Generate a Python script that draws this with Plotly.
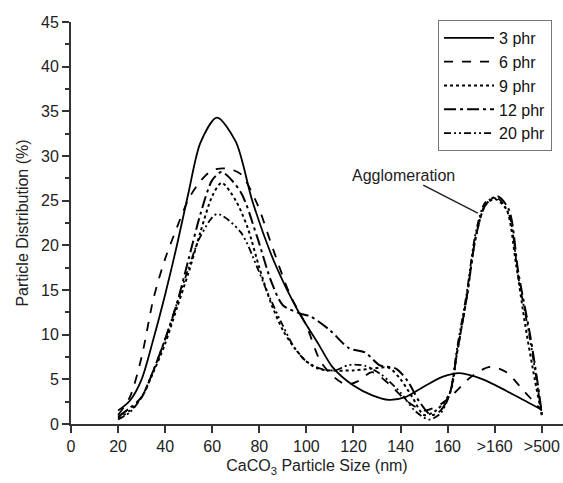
import plotly.graph_objects as go

# ---- data ----
x_3 = [20, 25, 30, 35, 40, 45, 50, 55, 62, 70, 77, 85, 90, 97, 105, 111, 120, 128, 135, 142, 150, 158, 165, 175, 185, 195, 200]
y_3 = [1.5, 2.6, 5.0, 9.5, 14.5, 20.0, 26.0, 31.5, 34.3, 31.6, 25.0, 19.0, 16.0, 12.4, 9.0, 6.4, 4.3, 3.2, 2.7, 3.0, 4.2, 5.3, 5.7, 5.0, 3.7, 2.3, 1.6]

x_6 = [20, 25, 30, 35, 40, 45, 50, 55, 60, 66, 72, 79, 85, 93, 100, 106, 112, 117, 122, 128, 135, 143, 150, 157, 163, 170, 178, 185, 192, 200]
y_6 = [1.0, 3.0, 7.5, 14.0, 18.5, 22.0, 25.2, 27.2, 28.4, 28.6, 28.0, 24.7, 20.2, 14.5, 11.0, 7.0, 5.2, 4.4, 4.8, 5.8, 4.5, 2.5, 1.5, 2.2, 3.5, 5.3, 6.4, 5.8, 3.8, 1.5]

x_9 = [20, 25, 30, 35, 40, 45, 50, 55, 60, 64, 70, 75, 80, 85, 90, 95, 100, 105, 110, 120, 128, 135, 140, 145, 150, 155, 161, 164, 168, 172, 176, 180, 185, 189, 193, 197, 200]
y_9 = [0.6, 1.5, 3.0, 5.8, 9.0, 13.0, 17.0, 21.5, 25.5, 27.0, 25.0, 22.0, 17.5, 13.5, 10.5, 8.5, 7.0, 6.2, 6.0, 6.0, 6.2, 6.3, 5.0, 3.0, 1.0, 1.5, 3.5, 8.0, 14.0, 21.0, 24.5, 25.2, 24.0, 18.0, 11.0, 5.0, 1.0]

x_12 = [20, 25, 30, 35, 40, 45, 50, 55, 60, 64, 72, 79, 85, 90, 97, 102, 110, 118, 125, 131, 138, 143, 148, 153, 157, 161, 164, 168, 172, 176, 181, 186, 190, 195, 198, 200]
y_12 = [0.8, 1.8, 3.0, 6.0, 9.5, 13.5, 18.5, 23.5, 27.3, 28.2, 26.0, 21.0, 16.0, 13.3, 12.4, 12.0, 10.5, 8.5, 8.0, 6.6, 6.2, 4.8, 2.5, 1.0, 1.5, 3.5, 8.0, 14.0, 21.0, 24.5, 25.5, 24.0, 17.0, 10.0, 5.0, 1.2]

x_20 = [20, 25, 30, 35, 40, 45, 50, 55, 62, 72, 79, 83, 90, 95, 100, 106, 112, 118, 125, 132, 140, 146, 152, 157, 161, 164, 168, 172, 176, 181, 186, 190, 195, 198, 200]
y_20 = [0.5, 1.3, 3.0, 6.0, 9.5, 13.5, 17.5, 21.0, 23.5, 21.5, 17.6, 15.0, 11.0, 8.5, 7.0, 6.2, 6.0, 6.6, 6.5, 5.5, 3.5, 1.5, 0.5, 1.2, 3.5, 8.5, 14.5, 21.5, 24.8, 25.3, 23.5, 16.5, 9.5, 4.5, 1.0]

series_names = ["3 phr", "6 phr", "9 phr", "12 phr", "20 phr"]
x_tick_vals = [0, 20, 40, 60, 80, 100, 120, 140, 160, 180, 200]
x_tick_text = ["0", "20", "40", "60", "80", "100", "120", "140", "160", ">160", ">500"]
y_tick_vals = [0, 5, 10, 15, 20, 25, 30, 35, 40, 45]

# ---- styles ----
dashes = ["solid", "dash", "dot", "12px,4px,3px,4px", "7px,3px,2px,3px,2px,3px"]
widths = [1.8, 1.8, 2.0, 2.0, 1.8]
FONT = "Liberation Sans, Arial, sans-serif"

fig = go.Figure()
for xs, ys, name, d, w in zip([x_3, x_6, x_9, x_12, x_20],
                              [y_3, y_6, y_9, y_12, y_20],
                              series_names, dashes, widths):
    fig.add_trace(go.Scatter(x=xs, y=ys, name=name, mode="lines",
                             line=dict(color="black", dash=d, width=w,
                                       shape="spline", smoothing=0.8)))

fig.update_layout(
    width=563, height=483,
    margin=dict(l=71, r=0, t=22, b=59),
    paper_bgcolor="white", plot_bgcolor="white",
    font=dict(family=FONT, size=16, color="#222"),
    showlegend=True,
    legend=dict(x=0.746, y=1.005, xanchor="left", yanchor="top",
                bordercolor="#777", borderwidth=1, bgcolor="white",
                font=dict(family=FONT, size=16, color="#111"),
                itemwidth=50, tracegroupgap=0),
    xaxis=dict(range=[0, 209], tickvals=x_tick_vals, ticktext=x_tick_text,
               showgrid=False, zeroline=False, showline=True,
               linecolor="#333", linewidth=2, ticks="outside",
               ticklen=7, tickwidth=2, tickcolor="#333",
               tickfont=dict(size=16, color="#222"),
               title=dict(text="CaCO<sub>3</sub> Particle Size (nm)",
                          font=dict(size=16, color="#222"), standoff=6)),
    yaxis=dict(range=[0, 45], tickvals=y_tick_vals,
               showgrid=False, zeroline=False, showline=True,
               linecolor="#333", linewidth=2, ticks="outside",
               ticklen=7, tickwidth=2, tickcolor="#333",
               tickfont=dict(size=16, color="#222"),
               minor=dict(dtick=2.5, ticks="outside", ticklen=4,
                          tickwidth=1.5, tickcolor="#333", showgrid=False),
               title=dict(text="Particle Distribution (%)",
                          font=dict(size=16, color="#222"), standoff=8)),
)

# label with arrow pointing to the agglomeration peak
fig.add_annotation(x=172.8, y=23.6, ax=-74, ay=-38, text="Agglomeration",
                   showarrow=True, arrowhead=0, arrowwidth=1.5,
                   arrowcolor="#222", standoff=0,
                   font=dict(family=FONT, size=16, color="#222"))

fig.write_html("out.html")
